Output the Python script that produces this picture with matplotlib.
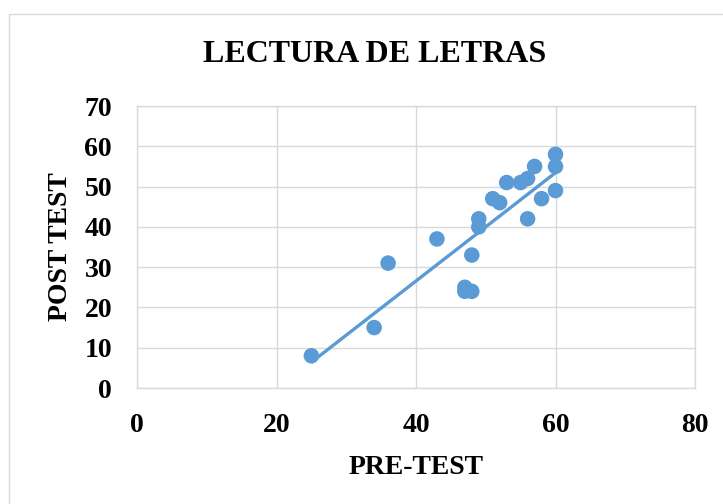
import numpy as np
import matplotlib.pyplot as plt
from matplotlib.patches import Rectangle

# ── Data ───────────────────────────────────────────────────────────────────────
pre_test = [25, 34, 36, 43, 47, 47, 48, 48, 49, 49, 51, 52, 53, 55, 56, 56, 57, 58, 60, 60, 60]
post_test = [8, 15, 31, 37, 25, 24, 24, 33, 42, 40, 47, 46, 51, 51, 52, 42, 55, 47, 58, 55, 49]

x_ticks = [0, 20, 40, 60, 80]
y_ticks = [0, 10, 20, 30, 40, 50, 60, 70]

BLUE = '#5B9BD5'
GRID = '#D9D9D9'

plt.rcParams['font.family'] = ['Liberation Serif', 'DejaVu Serif']
plt.rcParams['font.weight'] = 'bold'

fig = plt.figure(figsize=(7.23, 5.04), dpi=100)
fig.patch.set_facecolor('white')

# chart area border (only left/top visible in the crop)
fig.patches.append(Rectangle((9 / 723, -0.1), 1.2, 1 - 14 / 504 + 0.1,
                             transform=fig.transFigure, fill=False,
                             edgecolor=GRID, linewidth=1.0))

ax = fig.add_axes([137 / 723, 1 - 388 / 504, (695 - 137) / 723, (388 - 106) / 504])

x = np.array(pre_test, dtype=float)
y = np.array(post_test, dtype=float)

# linear trendline
slope, intercept = np.polyfit(x, y, 1)
xt = np.array([x.min(), x.max()])
ax.plot(xt, slope * xt + intercept, color=BLUE, linewidth=2.4, zorder=2,
        solid_capstyle='butt')

ax.scatter(x, y, s=125, color=BLUE, edgecolors='none', zorder=3)

ax.set_xlim(0, 80)
ax.set_ylim(0, 70)
ax.set_xticks(x_ticks)
ax.set_yticks(y_ticks)
ax.grid(True, color=GRID, linewidth=1.0)
ax.set_axisbelow(True)
for s in ax.spines.values():
    s.set_color(GRID)
    s.set_linewidth(1.0)
ax.tick_params(length=0, labelsize=20, pad=18)
for lab in ax.get_xticklabels() + ax.get_yticklabels():
    lab.set_fontweight('bold')

ax.set_xlabel('PRE-TEST', fontsize=20, fontweight='bold', labelpad=12)
ax.set_ylabel('POST TEST', fontsize=20, fontweight='bold', labelpad=8)

fig.text(375 / 723, 1 - 55 / 504, 'LECTURA DE LETRAS', ha='center', va='center',
         fontsize=23, fontweight='bold')

fig.savefig('out.png', dpi=100)
